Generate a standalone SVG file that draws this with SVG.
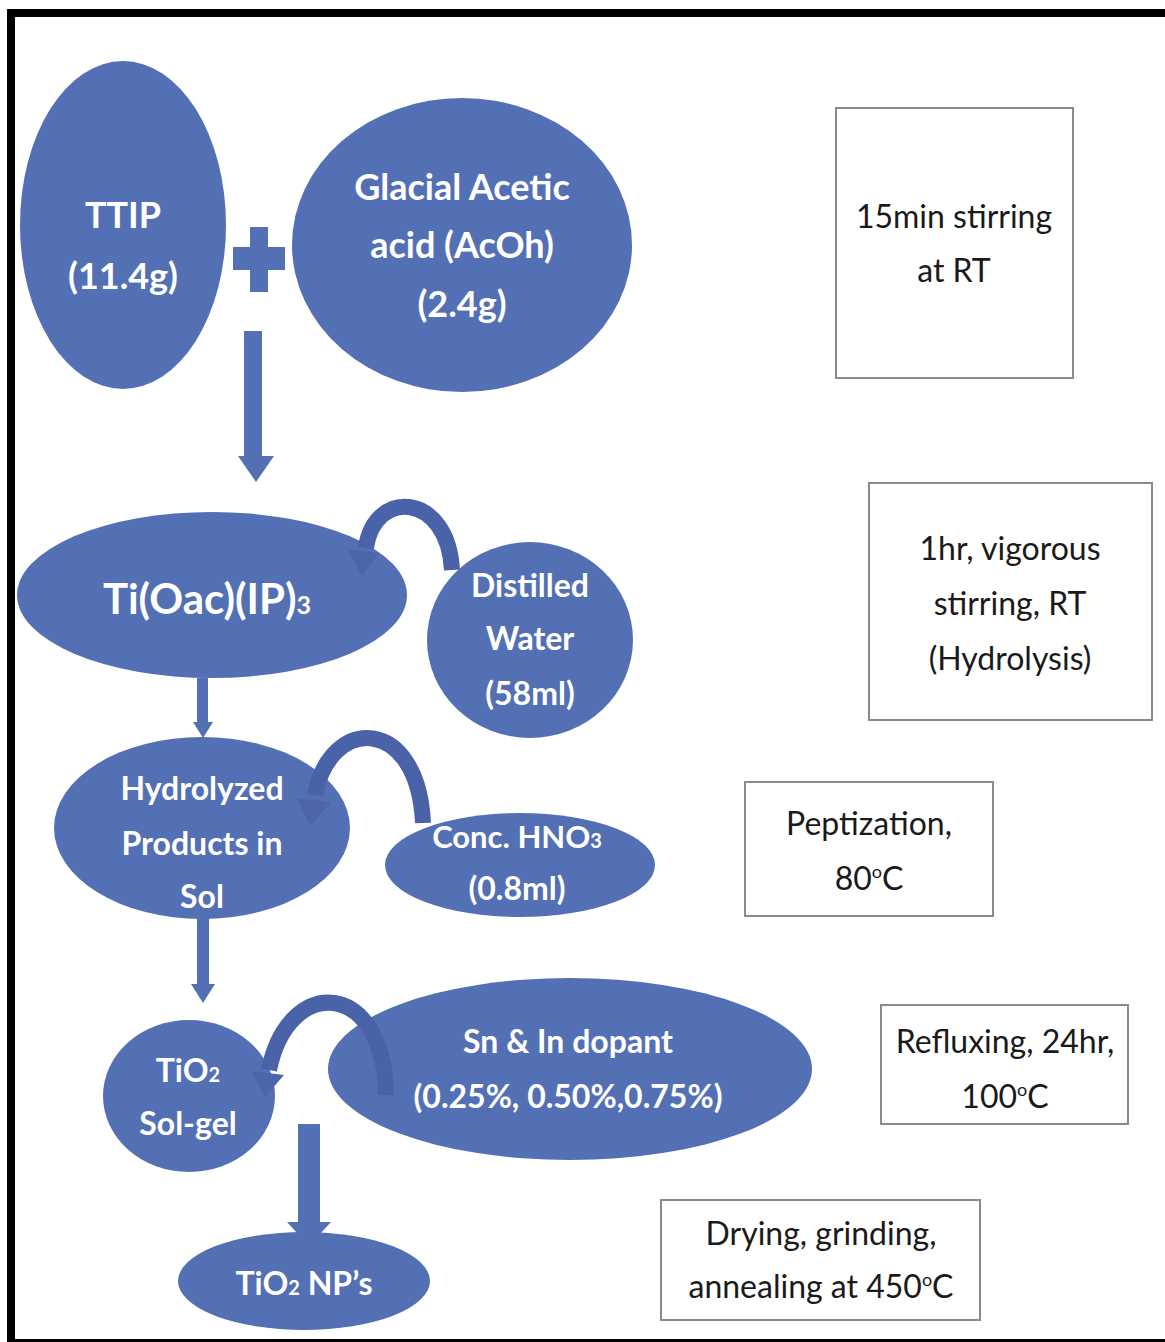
<svg xmlns="http://www.w3.org/2000/svg" width="1165" height="1342" viewBox="0 0 1165 1342">
<style>
.n{fill:#5470b4}
.w{font-family:Lato,"Open Sans",sans-serif;font-weight:bold;fill:#ffffff;text-anchor:middle}
.b{font-family:Lato,"Open Sans",sans-serif;fill:#1a1a1a;text-anchor:middle;font-size:32px}
.box{fill:#ffffff;stroke:#8a8a8a;stroke-width:2}
.arr{fill:#5470b4}
.cv{fill:none;stroke:#4a63a8;stroke-width:16}
.cvh{fill:#4d66ab}
</style>
<rect x="0" y="0" width="1165" height="1342" fill="#ffffff"/>
<g id="frame">
<rect x="7" y="9" width="1158" height="8" fill="#000"/>
<rect x="7" y="9" width="8" height="1333" fill="#000"/>
<rect x="7" y="1339" width="1158" height="3" fill="#000"/>
</g>
<g id="ttip"><ellipse class="n" cx="123" cy="225" rx="103" ry="164"/>
<text class="w" x="123" y="228" font-size="36">TTIP</text>
<text class="w" x="123" y="289" font-size="36">(11.4g)</text></g>
<g id="plus"><path class="n" d="M250 227h18v20h17v23h-17v22h-18v-22h-17v-23h17z"/></g>
<g id="acetic"><ellipse class="n" cx="462" cy="245" rx="170" ry="147"/>
<text class="w" x="462" y="200" font-size="36">Glacial Acetic</text>
<text class="w" x="462" y="258" font-size="36">acid (AcOh)</text>
<text class="w" x="462" y="317" font-size="36">(2.4g)</text></g>
<g id="box1"><rect class="box" x="836" y="108" width="237" height="270"/>
<text class="b" x="954" y="228">15min stirring</text>
<text class="b" x="954" y="282">at RT</text></g>
<g id="tioac"><ellipse class="n" cx="212" cy="595" rx="195" ry="83"/>
<text class="w" x="207" y="614" font-size="42" font-weight="normal">Ti(Oac)(IP)<tspan font-size="25">3</tspan></text></g>
<g id="water"><ellipse class="n" cx="530" cy="640" rx="103" ry="98"/>
<text class="w" x="530" y="597" font-size="32">Distilled</text>
<text class="w" x="530" y="650" font-size="32">Water</text>
<text class="w" x="530" y="705" font-size="32">(58ml)</text></g>
<g id="box2"><rect class="box" x="869" y="483" width="283" height="237"/>
<text class="b" x="1010" y="560">1hr, vigorous</text>
<text class="b" x="1010" y="615">stirring, RT</text>
<text class="b" x="1010" y="670">(Hydrolysis)</text></g>
<g id="hydro"><ellipse class="n" cx="202" cy="828" rx="148" ry="91"/>
<text class="w" x="202" y="800" font-size="32">Hydrolyzed</text>
<text class="w" x="202" y="855" font-size="32">Products in</text>
<text class="w" x="202" y="908" font-size="32">Sol</text></g>
<g id="hno3"><ellipse class="n" cx="520" cy="865" rx="135" ry="52"/>
<text class="w" x="517" y="848" font-size="31">Conc. HNO<tspan font-size="20">3</tspan></text>
<text class="w" x="517" y="900" font-size="32">(0.8ml)</text></g>
<g id="box3"><rect class="box" x="745" y="782" width="248" height="134"/>
<text class="b" x="869" y="835">Peptization,</text>
<text class="b" x="869" y="890">80<tspan font-size="18" dy="-12">o</tspan><tspan dy="12">C</tspan></text></g>
<g id="solgel"><ellipse class="n" cx="189" cy="1096" rx="86" ry="76"/>
<text class="w" x="188" y="1082" font-size="32">TiO<tspan font-size="20">2</tspan></text>
<text class="w" x="188" y="1135" font-size="32">Sol-gel</text></g>
<g id="dopant"><ellipse class="n" cx="570" cy="1069" rx="242" ry="91"/>
<text class="w" x="568" y="1053" font-size="32">Sn &amp; In dopant</text>
<text class="w" x="568" y="1108" font-size="32">(0.25%, 0.50%,0.75%)</text></g>
<g id="box4"><rect class="box" x="881" y="1005" width="247" height="119"/>
<text class="b" x="1005" y="1053">Refluxing,  24hr,</text>
<text class="b" x="1005" y="1108">100<tspan font-size="18" dy="-12">o</tspan><tspan dy="12">C</tspan></text></g>
<g id="np"><ellipse class="n" cx="304" cy="1281" rx="126" ry="49"/>
<text class="w" x="304" y="1295" font-size="32">TiO<tspan font-size="20">2</tspan> NP’s</text></g>
<g id="box5"><rect class="box" x="661" y="1200" width="319" height="120"/>
<text class="b" x="821" y="1245">Drying, grinding,</text>
<text class="b" x="821" y="1298">annealing at 450<tspan font-size="18" dy="-12">o</tspan><tspan dy="12">C</tspan></text></g>
<g id="connectors">
<path class="arr" d="M244 331h18v125h12l-18 26l-18-26h6z"/>
<path class="arr" d="M197 678h11v44h5l-10 16l-10-16h4z"/>
<path class="arr" d="M197 918h12v66h6l-12 19l-12-19h6z"/>
<path class="arr" d="M298 1124h22v98h11l-22 24l-22-24h11z"/>
<path class="cv" d="M452 570 C448 492, 374 488, 366 548"/>
<path class="cvh" d="M348 550 L379 553 L362 576 Z"/>
<path class="cv" d="M423 823 C418 715, 330 715, 315 795"/>
<path class="cvh" d="M297 798 L331 802 L310 826 Z"/>
<path class="cv" d="M386 1095 C384 978, 288 975, 269 1070"/>
<path class="cvh" d="M251 1071 L284 1075 L265 1097 Z"/>
</g>
</svg>
